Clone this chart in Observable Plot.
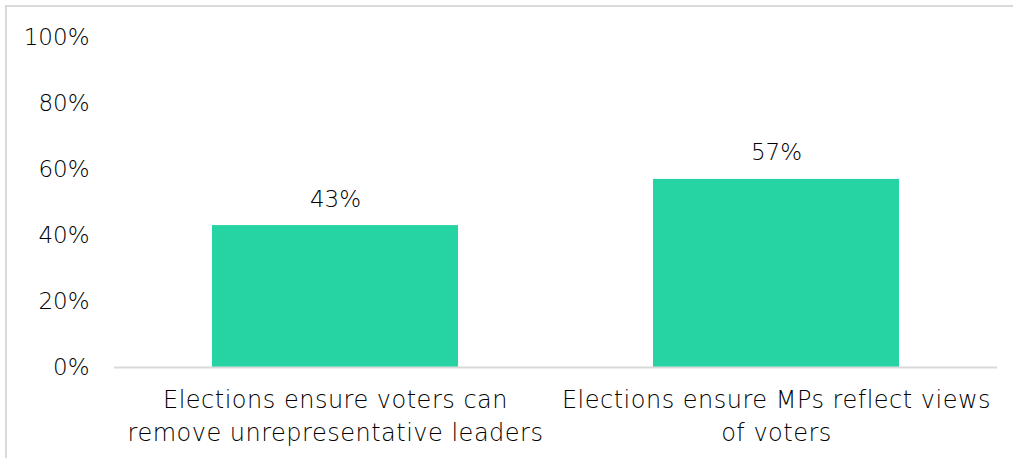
<!DOCTYPE html>
<html>
<head>
<meta charset="utf-8">
<script src="https://cdn.jsdelivr.net/npm/d3@7"></script>
<script src="https://cdn.jsdelivr.net/npm/@observablehq/plot@0.6"></script>
<style>
  html, body { margin: 0; padding: 0; background: #fff; overflow: hidden; }
  #frame { position: absolute; left: 5px; top: 5px; width: 1030px; height: 480px; border: 2px solid #d9d9d9; box-sizing: border-box; }
  #chart { position: absolute; left: 0; top: 0; }
  #chart svg text { font-weight: 300; }
  #chart svg g[aria-label="x-axis tick label"] text { letter-spacing: 0.5px; }
</style>
</head>
<body>
<div id="frame"></div>
<div id="chart"></div>
<script>
const categories = [
  "Elections ensure voters can\nremove unrepresentative leaders",
  "Elections ensure MPs reflect views\nof voters"
];
const values = [0.43, 0.57];
const yTicks = [0, 0.2, 0.4, 0.6, 0.8, 1.0];

const data = categories.map((c, i) => ({category: c, value: values[i]}));
const font = "'Century Gothic', 'URW Gothic', 'DejaVu Sans', sans-serif";

const chart = Plot.plot({
  width: 1013,
  height: 458,
  marginLeft: 114,
  marginRight: 16,
  marginTop: 37,
  marginBottom: 91,
  style: {fontFamily: font, fontSize: "23px", color: "#000", background: "transparent"},
  x: {domain: categories, paddingInner: 0.443, paddingOuter: 0.2215, label: null},
  y: {domain: [0, 1], label: null},
  marks: [
    Plot.barY(data, {x: "category", y: "value", fill: "#26d3a3"}),
    Plot.ruleY([0], {stroke: "#d9d9d9", strokeWidth: 2}),
    Plot.text(data, {x: "category", y: "value", text: d => Math.round(d.value * 100) + "%", lineAnchor: "bottom", dy: -19, fontSize: 23, fill: "#000"}),
    Plot.axisY({ticks: yTicks, tickFormat: d => Math.round(d * 100) + "%", tickSize: 0, tickPadding: 25, fontSize: 23, label: null}),
    Plot.axisX({tickSize: 0, tickPadding: 17, fontSize: 24, lineHeight: 1.375, label: null})
  ]
});
document.getElementById("chart").appendChild(chart);
</script>
</body>
</html>
